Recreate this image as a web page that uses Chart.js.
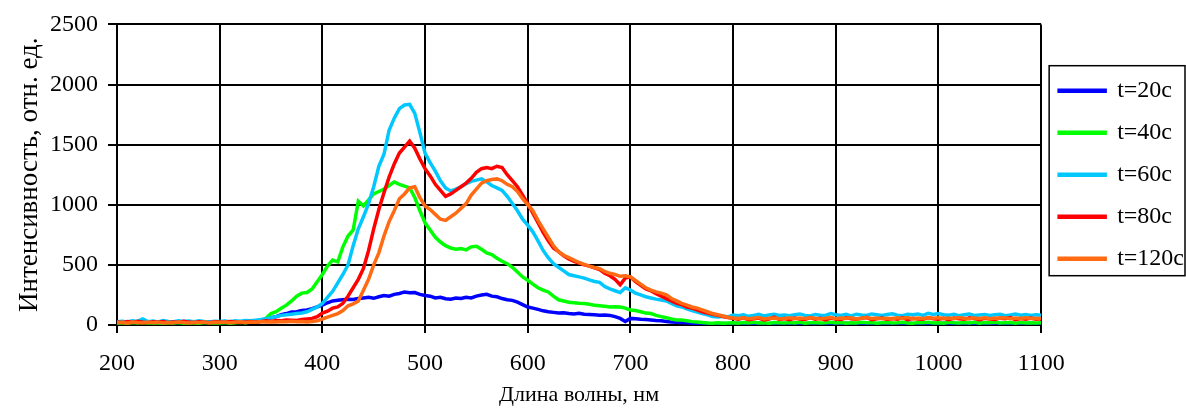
<!DOCTYPE html>
<html>
<head>
<meta charset="utf-8">
<script src="https://cdn.jsdelivr.net/npm/chart.js@4"></script>
<style>
    html, body { margin: 0; padding: 0; background: #fff; }
    #wrap { width: 1186px; height: 409px; }
</style>
</head>
<body>
<div id="wrap"><canvas id="spectraChart"></canvas></div>
<script>
// wavelength, nm (5 nm step)
const wavelengths = [
    200,205,210,215,220,225,230,235,240,245, 250,255,260,265,270,275,280,285,290,295,
    300,305,310,315,320,325,330,335,340,345, 350,355,360,365,370,375,380,385,390,395,
    400,405,410,415,420,425,430,435,440,445, 450,455,460,465,470,475,480,485,490,495,
    500,505,510,515,520,525,530,535,540,545, 550,555,560,565,570,575,580,585,590,595,
    600,605,610,615,620,625,630,635,640,645, 650,655,660,665,670,675,680,685,690,695,
    700,705,710,715,720,725,730,735,740,745, 750,755,760,765,770,775,780,785,790,795,
    800,805,810,815,820,825,830,835,840,845, 850,855,860,865,870,875,880,885,890,895,
    900,905,910,915,920,925,930,935,940,945, 950,955,960,965,970,975,980,985,990,995,
    1000,1005,1010,1015,1020,1025,1030,1035,1040,1045, 1050,1055,1060,1065,1070,1075,1080,1085,1090,1095,
    1100
];

const t20 = [
    22,25,20,28,24,30,22,26,21,27, 23,25,20,28,24,22,26,21,27,25,
    23,28,22,26,24,30,25,28,32,45, 60,70,85,95,108,110,120,125,135,150,
    165,185,200,205,210,215,212,220,225,230, 222,235,245,240,255,262,275,268,270,255,
    245,240,225,230,218,215,225,220,230,225, 240,250,255,240,235,220,210,205,190,170,
    150,140,130,118,110,105,100,102,95,92, 98,90,88,85,82,83,80,70,55,30,
    55,52,48,45,42,38,35,30,25,22, 20,18,15,12,10,12,9,11,13,10,
    12,14,10,13,11,15,12,10,14,12, 13,11,15,12,10,14,13,11,12,15,
    12,10,14,13,11,12,15,13,10,12, 14,12,11,13,15,12,10,14,12,13,
    11,15,12,14,10,13,12,11,14,12, 13,15,11,12,14,10,13,12,15,11,
    12
];

const t40 = [
    15,18,14,20,16,22,15,19,17,14, 18,16,20,15,19,17,14,21,16,18,
    17,20,15,19,22,18,24,28,35,55, 95,110,140,165,200,240,265,270,300,360,
    420,490,540,525,650,740,790,1030,990,1040, 1090,1110,1130,1160,1190,1170,1155,1140,1060,950,
    850,790,730,690,660,640,630,635,625,650, 655,630,600,585,555,530,510,480,440,400,
    372,340,310,290,275,240,210,200,190,185, 180,178,172,165,160,155,150,152,150,140,
    125,120,110,99,95,80,70,60,50,41, 41,35,28,25,20,17,15,18,14,16,
    18,15,20,17,22,16,19,14,21,18, 16,20,17,23,15,19,21,16,18,22,
    17,21,15,19,16,22,18,20,15,19, 21,16,19,23,17,15,20,18,22,16,
    19,15,22,18,16,21,17,23,15,20, 18,22,16,19,21,15,20,17,19,16,
    18
];

const t60 = [
    28,32,25,35,30,50,28,33,26,38, 30,27,35,29,33,28,36,30,26,32,
    30,34,28,36,32,38,35,40,45,52, 60,70,80,85,90,95,100,110,130,150,
    180,230,280,350,420,500,660,800,900,1010, 1150,1320,1420,1620,1720,1800,1830,1835,1760,1600,
    1430,1350,1280,1200,1140,1115,1130,1150,1175,1195, 1205,1215,1190,1160,1140,1120,1070,1010,950,880,
    830,775,700,620,560,510,480,450,420,410, 400,390,375,362,355,320,300,285,270,310,
    290,265,250,235,225,215,208,200,180,160, 150,135,120,108,95,85,70,66,72,68,
    82,78,85,72,80,88,76,83,90,79, 84,78,86,92,80,75,88,82,79,95,
    85,80,88,76,90,84,79,92,86,80, 88,94,82,78,90,86,92,80,98,88,
    95,85,82,90,78,86,92,80,84,88, 80,86,90,78,84,92,82,88,80,85,
    82
];

const t80 = [
    25,20,28,22,30,24,18,26,22,28, 20,25,22,30,24,21,27,23,19,26,
    24,22,28,25,20,26,30,24,28,35, 30,38,35,42,40,38,45,50,55,70,
    100,115,140,150,180,240,310,380,470,620, 800,960,1100,1230,1340,1430,1480,1530,1470,1380,
    1300,1240,1170,1120,1070,1090,1120,1150,1180,1220, 1270,1300,1310,1300,1320,1310,1250,1200,1150,1080,
    1010,930,850,770,700,640,610,575,550,530, 515,500,490,475,460,430,410,380,335,390,
    400,360,330,300,285,260,240,220,200,180, 170,150,140,125,110,100,90,80,70,62,
    55,48,60,45,52,58,42,50,65,47, 53,44,58,50,46,62,48,55,42,57,
    50,45,60,52,47,55,63,44,51,58, 46,53,49,60,44,56,50,47,62,52,
    48,55,45,58,51,47,60,53,44,56, 50,46,57,52,62,45,53,49,58,47,
    52
];

const t120 = [
    18,22,15,25,20,17,24,19,22,16, 21,18,24,20,16,23,19,25,18,22,
    20,24,18,22,26,20,25,22,28,24, 28,25,30,27,32,28,30,26,30,35,
    50,65,80,95,120,160,175,200,290,380, 500,600,740,860,950,1050,1090,1140,1150,1060,
    990,960,920,880,870,900,930,970,1010,1080, 1130,1180,1200,1210,1215,1200,1170,1150,1110,1050,
    1000,950,870,800,730,660,610,580,560,540, 520,505,490,478,468,445,430,420,405,410,
    400,370,340,310,290,275,265,250,220,200, 180,165,150,140,125,110,95,85,75,65,
    58,54,60,52,57,62,50,56,59,53, 55,60,52,58,54,61,56,50,57,62,
    53,58,55,60,51,57,62,54,59,52, 57,52,60,55,63,50,58,54,61,56,
    60,54,58,52,62,56,50,59,55,61, 53,59,56,61,52,58,55,60,54,57,
    55
];

const seriesLabels = ["t=20c", "t=40c", "t=60c", "t=80c", "t=120c"];
const seriesColors = ["#0000FF", "#00FF00", "#00C8FF", "#FF0000", "#FF6A13"];
const seriesValues = [t20, t40, t60, t80, t120];

const FONT = "'Liberation Serif', 'Times New Roman', serif";

function toPoints(values) {
    return wavelengths.map((x, i) => ({ x: x, y: values[i] }));
}

// frame round the legend, like the original
const legendFrame = {
    id: "legendFrame",
    afterDraw(chart) {
        const boxes = chart.legend && chart.legend.legendHitBoxes;
        if (!boxes || !boxes.length) return;
        const first = boxes[0];
        const last = boxes[boxes.length - 1];
        const ctx = chart.ctx;
        const left = first.left - 10;
        const top = first.top + first.height / 2 - 25;
        const bottom = last.top + last.height / 2 + 17;
        ctx.save();
        ctx.strokeStyle = "#000";
        ctx.lineWidth = 1.5;
        ctx.strokeRect(left, top, chart.width - 1 - left, bottom - top);
        ctx.restore();
    }
};

const ctx = document.getElementById("spectraChart").getContext("2d");
new Chart(ctx, {
    type: "line",
    data: {
        datasets: seriesLabels.map((label, i) => ({
            label: label,
            data: toPoints(seriesValues[i]),
            borderColor: seriesColors[i],
            backgroundColor: seriesColors[i],
            borderWidth: 3.5,
            pointRadius: 0,
            tension: 0,
            order: seriesLabels.length - i
        }))
    },
    options: {
        responsive: true,
        maintainAspectRatio: false,
        animation: false,
        layout: { padding: { top: 23, left: 0, right: -8, bottom: 0 } },
        plugins: {
            tooltip: { enabled: false },
            legend: {
                position: "right",
                fullSize: false,
                labels: {
                    color: "#000",
                    font: { family: FONT, size: 24 },
                    boxWidth: 46,
                    boxHeight: 1,
                    padding: 18,
                    sort: (a, b) => a.datasetIndex - b.datasetIndex
                }
            }
        },
        scales: {
            x: {
                type: "linear",
                min: 200,
                max: 1100,
                ticks: { stepSize: 100, color: "#000", font: { family: FONT, size: 24 }, padding: 16, maxRotation: 0, callback: (v) => String(v) },
                grid: { color: "#000", lineWidth: 2, tickLength: 8 },
                border: { color: "#000", width: 2 },
                title: { display: true, text: "Длина волны, нм", color: "#000", font: { family: FONT, size: 22 }, padding: { top: 0, bottom: 1 } },
                afterFit(scale) { scale.height = 84; }
            },
            y: {
                min: 0,
                max: 2500,
                ticks: { stepSize: 500, color: "#000", font: { family: FONT, size: 24 }, padding: 10, callback: (v) => String(v) },
                grid: { color: "#000", lineWidth: 2, tickLength: 9 },
                border: { color: "#000", width: 2 },
                title: { display: true, text: "Интенсивность, отн. ед.", color: "#000", font: { family: FONT, size: 27 }, padding: { top: 14, bottom: 0 } },
                afterFit(scale) { scale.width = 117; }
            }
        }
    },
    plugins: [legendFrame]
});
</script>
</body>
</html>
